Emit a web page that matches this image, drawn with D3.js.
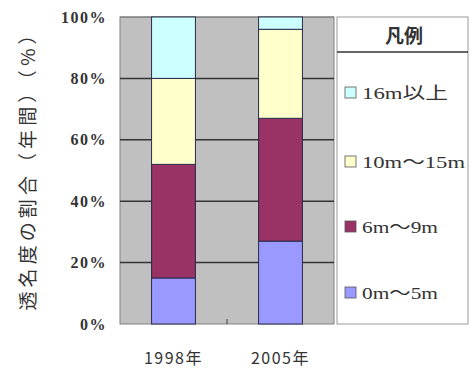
<!DOCTYPE html>
<html><head><meta charset="utf-8">
<script src="https://cdn.jsdelivr.net/npm/d3@7"></script>
<style>body{margin:0;background:#fff}svg{display:block}</style>
</head><body>
<svg id="c" width="473" height="372"></svg>
<script>
const categories = ["1998年", "2005年"];
const seriesNames = ["0m〜5m", "6m〜9m", "10m〜15m", "16m以上"];
const s0_5 = [15, 27];
const s6_9 = [37, 40];
const s10_15 = [28, 29];
const s16 = [20, 4];
const yTicks = [0, 20, 40, 60, 80, 100];
const colors = ["#9999ff", "#993366", "#ffffcc", "#ccffff"];
const yTitle = "透名度の割合（年間）（%）";
const legendTitle = "凡例";

const svg = d3.select("#c");
const L = 120, R = 334, T = 17, B = 324;
const x = d3.scaleBand().domain(categories).range([L, R]).paddingInner(0.59).paddingOuter(0.295);
const y = d3.scaleLinear().domain([0, 100]).range([B, T]);

const rows = categories.map((c, i) => ({cat: c, v: [s0_5[i], s6_9[i], s10_15[i], s16[i]]}));
const keys = [0, 1, 2, 3];
const stacked = d3.stack().keys(keys).value((d, k) => d.v[k])(rows);

// plot bg
svg.append("rect").attr("x", L).attr("y", T).attr("width", R - L).attr("height", B - T)
  .attr("fill", "#c0c0c0").attr("stroke", "#808080").attr("stroke-width", 1);

// gridlines
svg.append("g").selectAll("line").data(yTicks.filter(t => t > 0 && t < 100)).join("line")
  .attr("x1", L).attr("x2", R).attr("y1", d => y(d)).attr("y2", d => y(d))
  .attr("stroke", "#333").attr("stroke-width", 1.5);
svg.append("line").attr("x1", L).attr("x2", R).attr("y1", y(100)).attr("y2", y(100))
  .attr("stroke", "#777").attr("stroke-width", 1);

// bars
svg.append("g").selectAll("g").data(stacked).join("g")
  .attr("fill", (d, i) => colors[i])
  .selectAll("rect").data(d => d).join("rect")
  .attr("x", d => x(d.data.cat)).attr("width", x.bandwidth())
  .attr("y", d => y(d[1])).attr("height", d => y(d[0]) - y(d[1]))
  .attr("stroke", "#2a2a4a").attr("stroke-width", 1);

// middle tick
svg.append("line").attr("x1", (L + R) / 2).attr("x2", (L + R) / 2).attr("y1", B - 5).attr("y2", B)
  .attr("stroke", "#444");

// y axis labels
const yAxis = d3.axisLeft(y).tickValues(yTicks).tickFormat(d => d + "%").tickSize(0).tickPadding(0);
const ga = svg.append("g").attr("transform", `translate(107,0)`).call(yAxis);
ga.select(".domain").remove();
ga.selectAll("text").attr("font-family", "'Liberation Serif', serif").attr("font-weight", "bold")
  .attr("font-size", 16).attr("letter-spacing", 1.5).attr("fill", "#333");

// x labels
svg.append("g").selectAll("text").data(categories).join("text")
  .attr("x", d => x(d) + x.bandwidth() / 2).attr("y", 364)
  .attr("text-anchor", "middle").attr("font-family", "'Noto Sans CJK JP', sans-serif")
  .attr("font-size", 16).attr("letter-spacing", 1.5).attr("fill", "#333").text(d => d);

// y title
svg.append("text").attr("transform", "translate(35,168) rotate(-90)")
  .attr("text-anchor", "middle").attr("font-family", "'Noto Sans CJK JP', sans-serif")
  .attr("font-size", 19).attr("textLength", 285).attr("lengthAdjust", "spacing")
  .attr("fill", "#333").text(yTitle);

// legend
const lx = 337, lw = 131, ly = 17, lh = 307;
svg.append("rect").attr("x", lx).attr("y", ly).attr("width", lw).attr("height", lh)
  .attr("fill", "#fff").attr("stroke", "#999").attr("stroke-width", 1);
svg.append("line").attr("x1", lx).attr("x2", lx + lw).attr("y1", 52).attr("y2", 52)
  .attr("stroke", "#333").attr("stroke-width", 1.5);
svg.append("text").attr("x", 404).attr("y", 43).attr("text-anchor", "middle")
  .attr("font-family", "'Noto Sans CJK JP', sans-serif").attr("font-size", 19).attr("font-weight", "bold")
  .attr("fill", "#333").text(legendTitle);
const legendY = [93, 162, 227, 293];
const legendW = [86, 103, 76, 76];
const items = [3, 2, 1, 0];
const lg = svg.append("g").selectAll("g").data(items).join("g")
  .attr("transform", (d, i) => `translate(345,${legendY[i]})`);
lg.append("rect").attr("x", 0).attr("y", -6).attr("width", 11).attr("height", 11)
  .attr("fill", d => colors[d]).attr("stroke", "#555").attr("stroke-width", 0.8);
lg.append("text").attr("x", 17).attr("y", 6)
  .attr("font-family", "'Liberation Serif', 'Noto Sans CJK JP', serif").attr("font-size", 17)
  .attr("textLength", (d, i) => legendW[i]).attr("lengthAdjust", "spacingAndGlyphs")
  .attr("fill", "#333").text(d => seriesNames[d]);
</script>
</body></html>
